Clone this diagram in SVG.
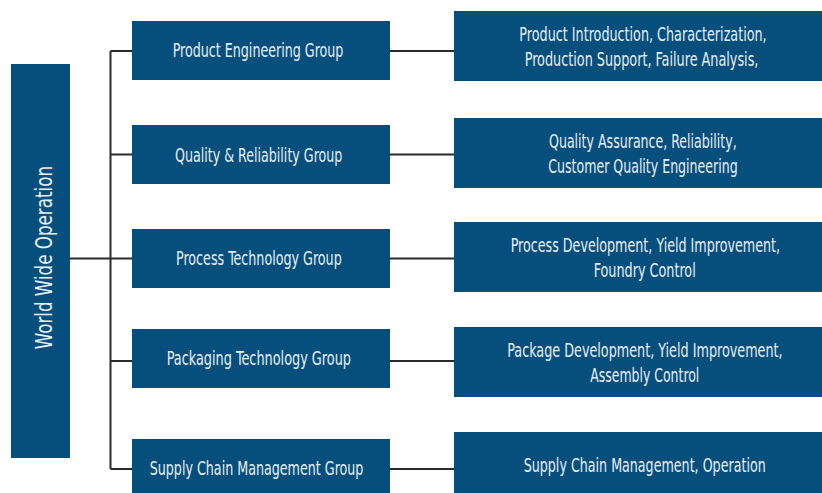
<svg xmlns="http://www.w3.org/2000/svg" width="822" height="493" viewBox="0 0 822 493">
<style>
.box{fill:#064f7d}
.t{fill:#e8eef4;font-family:"DejaVu Sans Condensed","Liberation Sans",sans-serif;font-size:19px;text-anchor:middle}
.v{font-size:23px}
.c{fill:none;stroke:#2a2a2a;stroke-width:2}
</style>
<rect width="822" height="493" fill="#ffffff"/>
<g id="connectors">
<path class="c" d="M70 258.5H110.5M110.5 51V469M110.5 51H132M110.5 154.5H132M110.5 258.5H132M110.5 361H132M110.5 469H132"/>
<path class="c" d="M390 51H454M390 154.5H454M390 258.5H454M390 361H454M390 469H454"/>
</g>
<g id="root">
<rect class="box" x="11" y="64" width="59" height="394"/>
<text class="t v" transform="translate(51.7 257.65) rotate(-90) scale(0.75 1)" textLength="244.4" lengthAdjust="spacingAndGlyphs">World Wide Operation</text>
</g>
<g id="g1">
<rect class="box" x="132" y="21" width="258" height="59"/>
<text class="t" transform="translate(258.05 57.3) scale(0.75 1)" textLength="227.6" lengthAdjust="spacingAndGlyphs">Product Engineering Group</text>
</g>
<g id="g2">
<rect class="box" x="132" y="125" width="258" height="59"/>
<text class="t" transform="translate(258.65 161.5) scale(0.75 1)" textLength="223.1" lengthAdjust="spacingAndGlyphs">Quality &amp; Reliability Group</text>
</g>
<g id="g3">
<rect class="box" x="132" y="229" width="258" height="59"/>
<text class="t" transform="translate(258.85 264.7) scale(0.75 1)" textLength="220.9" lengthAdjust="spacingAndGlyphs">Process Technology Group</text>
</g>
<g id="g4">
<rect class="box" x="132" y="329" width="258" height="59"/>
<text class="t" transform="translate(258.85 365.3) scale(0.75 1)" textLength="245.7" lengthAdjust="spacingAndGlyphs">Packaging Technology Group</text>
</g>
<g id="g5">
<rect class="box" x="132" y="439" width="258" height="54"/>
<text class="t" transform="translate(256.55 475) scale(0.75 1)" textLength="284.9" lengthAdjust="spacingAndGlyphs">Supply Chain Management Group</text>
</g>
<g id="d1">
<rect class="box" x="454" y="11" width="368" height="70"/>
<text class="t" transform="translate(643 40.7) scale(0.75 1)" textLength="329.7" lengthAdjust="spacingAndGlyphs">Product Introduction, Characterization,</text>
<text class="t" transform="translate(641.55 65.7) scale(0.75 1)" textLength="311.6" lengthAdjust="spacingAndGlyphs">Production Support, Failure Analysis,</text>
</g>
<g id="d2">
<rect class="box" x="454" y="118" width="368" height="70"/>
<text class="t" transform="translate(642.85 147.7) scale(0.75 1)" textLength="250.3" lengthAdjust="spacingAndGlyphs">Quality Assurance, Reliability,</text>
<text class="t" transform="translate(642.95 172.7) scale(0.75 1)" textLength="252.4" lengthAdjust="spacingAndGlyphs">Customer Quality Engineering</text>
</g>
<g id="d3">
<rect class="box" x="454" y="222" width="368" height="70"/>
<text class="t" transform="translate(645.35 251.7) scale(0.75 1)" textLength="359.1" lengthAdjust="spacingAndGlyphs">Process Development, Yield Improvement,</text>
<text class="t" transform="translate(644.7 276.7) scale(0.75 1)" textLength="136" lengthAdjust="spacingAndGlyphs">Foundry Control</text>
</g>
<g id="d4">
<rect class="box" x="454" y="327" width="368" height="70"/>
<text class="t" transform="translate(644.95 356.5) scale(0.75 1)" textLength="367.1" lengthAdjust="spacingAndGlyphs">Package Development, Yield Improvement,</text>
<text class="t" transform="translate(644.8 381.5) scale(0.75 1)" textLength="145.3" lengthAdjust="spacingAndGlyphs">Assembly Control</text>
</g>
<g id="d5">
<rect class="box" x="454" y="432" width="368" height="61"/>
<text class="t" transform="translate(644.7 471.7) scale(0.75 1)" textLength="322.7" lengthAdjust="spacingAndGlyphs">Supply Chain Management, Operation</text>
</g>
</svg>
